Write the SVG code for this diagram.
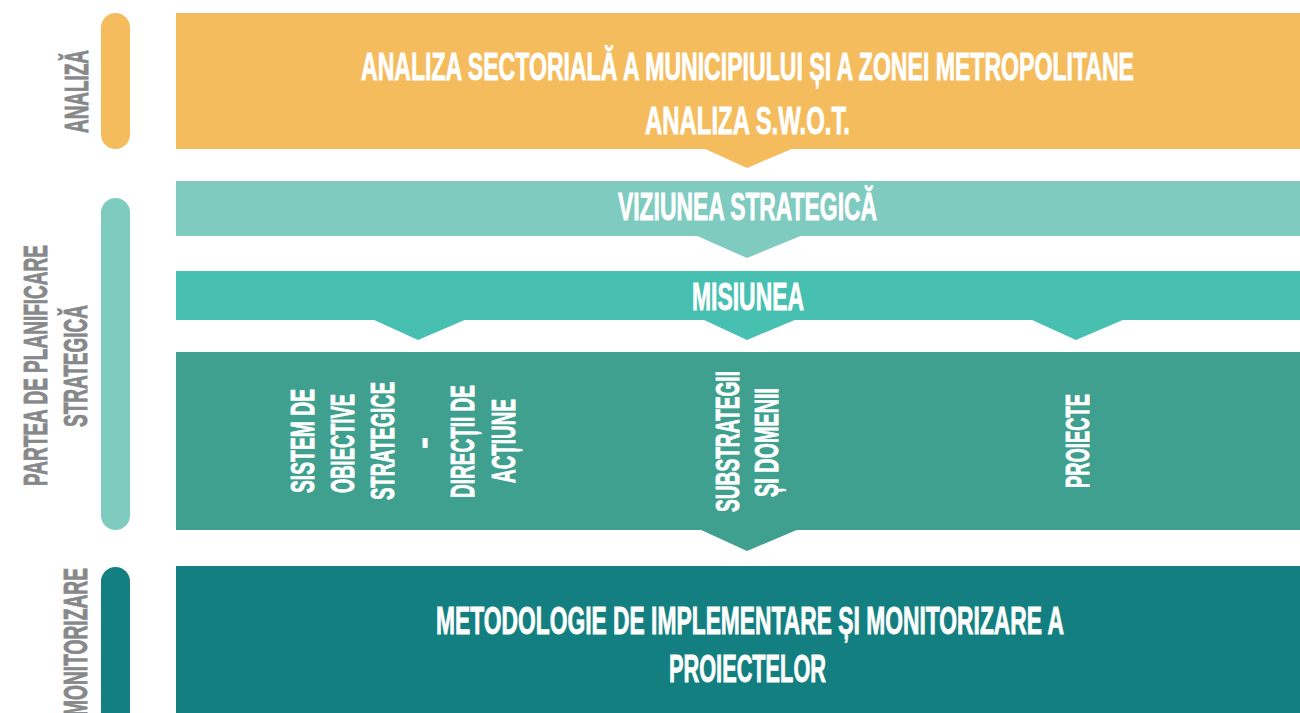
<svg xmlns="http://www.w3.org/2000/svg" width="1300" height="713" viewBox="0 0 1300 713">
<style>
.t{font-family:"Liberation Sans",Arial,sans-serif;font-weight:bold;fill:#ffffff;stroke:#ffffff;stroke-width:0.9px;}
.h{font-size:39px;}
.v{font-size:34px;}
.g{fill:#87888a;stroke:#87888a;}
</style>
<rect width="1300" height="713" fill="#ffffff"/>
<g id="connectors">
<polygon points="703,148 794,148 747,168" fill="#f4bc5c"/>
<polygon points="695,235 803,235 747,258" fill="#80cbc0"/>
<polygon points="372,319 467,319 418,340" fill="#47bfb1"/>
<polygon points="702,319 797,319 747,340" fill="#47bfb1"/>
<polygon points="1030,319 1125,319 1076,340" fill="#47bfb1"/>
<polygon points="699,529 799,529 747,551" fill="#40a08f"/>
</g>
<g id="label-analiza">
<rect x="101" y="13" width="29" height="136" rx="14.5" fill="#f4bc5c"/>
<text class="t v g" transform="rotate(-90)" x="-133" y="88" textLength="83" lengthAdjust="spacingAndGlyphs">ANALIZĂ</text>
</g>
<g id="label-planificare">
<rect x="101" y="198" width="29" height="332" rx="14.5" fill="#80cbc0"/>
<text class="t v g" transform="rotate(-90)" x="-486" y="47" textLength="241" lengthAdjust="spacingAndGlyphs">PARTEA DE PLANIFICARE</text>
<text class="t v g" transform="rotate(-90)" x="-427" y="87" textLength="122" lengthAdjust="spacingAndGlyphs">STRATEGICĂ</text>
</g>
<g id="label-monitorizare">
<rect x="101" y="567" width="29" height="170" rx="14.5" fill="#137f80"/>
<text class="t v g" transform="rotate(-90)" x="-716" y="87" textLength="148" lengthAdjust="spacingAndGlyphs">MONITORIZARE</text>
</g>
<g id="node-analiza">
<rect x="176" y="13" width="1124" height="136" fill="#f4bc5c"/>
<text class="t h" x="361" y="80" textLength="773" lengthAdjust="spacingAndGlyphs">ANALIZA SECTORIALĂ A MUNICIPIULUI ȘI A ZONEI METROPOLITANE</text>
<text class="t h" x="645" y="134" textLength="205" lengthAdjust="spacingAndGlyphs">ANALIZA S.W.O.T.</text>
</g>
<g id="node-viziunea">
<rect x="176" y="181" width="1124" height="55" fill="#80cbc0"/>
<text class="t h" x="618" y="220" textLength="259" lengthAdjust="spacingAndGlyphs">VIZIUNEA STRATEGICĂ</text>
</g>
<g id="node-misiunea">
<rect x="176" y="271" width="1124" height="49" fill="#47bfb1"/>
<text class="t h" x="692" y="310" textLength="112" lengthAdjust="spacingAndGlyphs">MISIUNEA</text>
</g>
<g id="node-componente">
<rect x="176" y="352" width="1124" height="178" fill="#40a08f"/>
<text class="t v" transform="rotate(-90)" x="-493" y="314" textLength="104" lengthAdjust="spacingAndGlyphs">SISTEM DE</text>
<text class="t v" transform="rotate(-90)" x="-493" y="354" textLength="99" lengthAdjust="spacingAndGlyphs">OBIECTIVE</text>
<text class="t v" transform="rotate(-90)" x="-500" y="394" textLength="118" lengthAdjust="spacingAndGlyphs">STRATEGICE</text>
<text class="t v" transform="rotate(-90)" x="-443" y="434" text-anchor="middle">-</text>
<text class="t v" transform="rotate(-90)" x="-498" y="474" textLength="113" lengthAdjust="spacingAndGlyphs">DIRECȚII DE</text>
<text class="t v" transform="rotate(-90)" x="-483" y="515" textLength="84" lengthAdjust="spacingAndGlyphs">ACȚIUNE</text>
<text class="t v" transform="rotate(-90)" x="-512" y="739" textLength="141" lengthAdjust="spacingAndGlyphs">SUBSTRATEGII</text>
<text class="t v" transform="rotate(-90)" x="-497" y="778" textLength="109" lengthAdjust="spacingAndGlyphs">ȘI DOMENII</text>
<text class="t v" transform="rotate(-90)" x="-488" y="1089" textLength="94" lengthAdjust="spacingAndGlyphs">PROIECTE</text>
</g>
<g id="node-monitorizare">
<rect x="176" y="566" width="1124" height="147" fill="#137f80"/>
<text class="t h" x="436" y="634" textLength="628" lengthAdjust="spacingAndGlyphs">METODOLOGIE DE IMPLEMENTARE ȘI MONITORIZARE A</text>
<text class="t h" x="669" y="682" textLength="157" lengthAdjust="spacingAndGlyphs">PROIECTELOR</text>
</g>
</svg>
